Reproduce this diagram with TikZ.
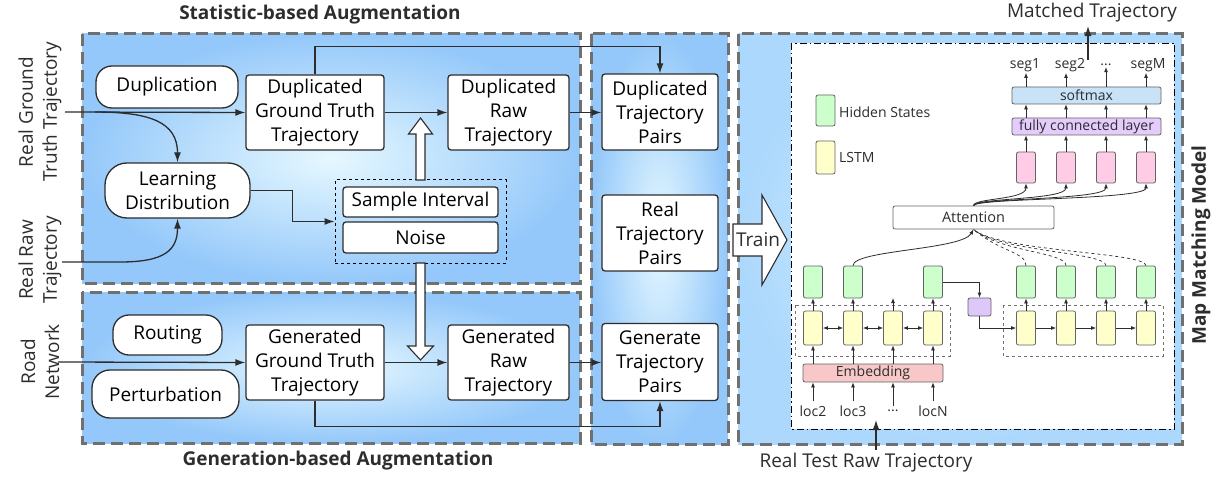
\documentclass[tikz,border=0pt]{standalone}
\usepackage{fontspec}
\setmainfont{Open Sans}
\usetikzlibrary{arrows.meta}

\definecolor{regionedge}{RGB}{148,200,250}
\definecolor{regioncenter}{RGB}{230,248,255}
\definecolor{modeledge}{RGB}{172,216,253}
\definecolor{modelcenter}{RGB}{214,240,255}
\definecolor{dashgray}{RGB}{112,112,112}
\definecolor{inkgray}{RGB}{45,45,45}
\definecolor{cellline}{RGB}{100,100,100}
\definecolor{hidcol}{RGB}{204,255,204}
\definecolor{lstmcol}{RGB}{255,255,204}
\definecolor{outcol}{RGB}{255,204,230}
\definecolor{embcol}{RGB}{248,200,200}
\definecolor{smcol}{RGB}{200,226,248}
\definecolor{fccol}{RGB}{228,204,252}
\definecolor{ctxcol}{RGB}{222,200,250}

\newcommand\bigf{\fontsize{19}{24}\selectfont}
\newcommand\smallf{\fontsize{14}{16}\selectfont}

\begin{document}
\begin{tikzpicture}[x=1pt,y=-1pt,
  region/.style={draw=dashgray, line width=3pt, dash pattern=on 12pt off 6pt,
                 inner color=regioncenter, outer color=regionedge},
  box/.style={draw=inkgray, fill=white, line width=1.3pt, rounded corners=3pt,
              align=center, font=\bigf, inner sep=0pt},
  pill/.style={box, rounded corners=16pt},
  conn/.style={draw=inkgray, line width=1.3pt, -{Latex[length=10pt,width=7pt]}},
  hollow/.style={draw=inkgray, line width=1.1pt, fill=white, line join=miter},
  title/.style={font=\bigf\bfseries, text=inkgray},
  lab/.style={font=\bigf, text=inkgray, align=center},
  cell/.style={draw=cellline, line width=0.8pt, rounded corners=2pt,
               minimum width=19pt, minimum height=32pt, inner sep=0pt},
  bar/.style={draw=cellline, line width=0.8pt, rounded corners=2pt,
              inner sep=0pt, font=\smallf, text=inkgray},
  sarr/.style={draw=inkgray, line width=0.8pt, -{Latex[length=5pt,width=4pt]}},
  darr/.style={draw=inkgray, line width=0.8pt, {Latex[length=5pt,width=4pt]}-{Latex[length=5pt,width=4pt]}},
  small/.style={font=\smallf, text=inkgray, inner sep=1pt},
]
\useasboundingbox (0,0) rectangle (1221,481);

% ---------- shaded regions ----------
\path[region] (82,34) rectangle (580,283);
\path[region] (82,292) rectangle (580,443);
\path[region] (591,34) rectangle (728,444);
\path[region, inner color=modelcenter, outer color=modeledge] (738,34) rectangle (1182,444);

% ---------- titles ----------
\node[title] (ttop) at (320,15) {Statistic-based Augmentation};
\node[title] (tbot) at (338,461) {Generation-based Augmentation};
\node[title, rotate=90] (tmodel) at (1201,245) {Map Matching Model};

% ---------- inputs on the left ----------
\node[lab, rotate=90] (lrgt) at (40,112) {Real Ground\\Truth Trajectory};
\node[lab, rotate=90] (lrr) at (40,260) {Real Raw\\Trajectory};
\node[lab, rotate=90] (lrn) at (40,362) {Road\\Network};
\coordinate (rgtin) at (65,112);
\coordinate (split) at (95,112);
\coordinate (rrin) at (62,262);
\coordinate (rnin) at (58,362);

% ---------- statistic-based augmentation ----------
\node[pill, minimum width=142pt, minimum height=42pt] (dup) at (167,87) {Duplication};
\node[box, minimum width=138pt, minimum height=75pt] (dgt) at (315,112.5) {Duplicated\\Ground Truth\\Trajectory};
\node[box, minimum width=121pt, minimum height=75pt] (drt) at (508.5,112.5) {Duplicated\\Raw\\Trajectory};
\node[pill, minimum width=145pt, minimum height=55pt, rounded corners=22pt] (ld) at (177.5,190.5) {Learning\\Distribution};
\node[draw=black, dashed, line width=1pt, minimum width=171pt, minimum height=83pt, inner sep=0pt] (grp) at (420.5,221.5) {};
\node[box, minimum width=155pt, minimum height=30pt] (samp) at (420.5,202) {Sample Interval};
\node[box, minimum width=155pt, minimum height=31pt] (noise) at (420.5,237.5) {Noise};

\draw[conn] (rgtin) -- (dgt.west);
\draw[conn] (split) .. controls (150,112) and (177.5,122) .. (ld.north);
\draw[conn] (rrin) -- (120,262) .. controls (165,262) and (177.5,250) .. (ld.south);
\draw[conn] (ld.east) -- ++(42,0) |- (grp.west);
\draw[conn] (dgt.east) -- (drt.west);

% hollow arrows from the sampling group
\draw[hollow] (416,180) -- (416,134) -- (408.5,134) -- (420.5,118) -- (432.5,134) -- (425,134) -- (425,180) -- cycle;
\draw[hollow] (416,263) -- (416,346) -- (407.5,346) -- (420.5,360) -- (433.5,346) -- (425,346) -- (425,263) -- cycle;

% ---------- generation-based augmentation ----------
\node[pill, minimum width=109pt, minimum height=40pt, rounded corners=16pt] (rout) at (167.5,335) {Routing};
\node[pill, minimum width=147pt, minimum height=48pt, rounded corners=18pt] (pert) at (165.5,394) {Perturbation};
\node[box, minimum width=138pt, minimum height=75pt] (ggt) at (315,362.5) {Generated\\Ground Truth\\Trajectory};
\node[box, minimum width=121pt, minimum height=75pt] (grt) at (508.5,362.5) {Generated\\Raw\\Trajectory};

\draw[conn] (rnin) -- (ggt.west);
\draw[conn] (ggt.east) -- (grt.west);

% ---------- trajectory pairs ----------
\node[box, minimum width=116pt, minimum height=76pt] (dtp) at (660,112) {Duplicated\\Trajectory\\Pairs};
\node[box, minimum width=116pt, minimum height=76pt] (rtp) at (660,233) {Real\\Trajectory\\Pairs};
\node[box, minimum width=116pt, minimum height=77pt] (gtp) at (660,362) {Generate\\Trajectory\\Pairs};

\draw[conn] (drt.east) -- (drt.east -| dtp.west);
\draw[conn] (dgt.north) -- ++(0,-28) -| (dtp.north);
\draw[conn] (grt.east) -- (grt.east -| gtp.west);
\draw[conn] (ggt.south) -- ++(0,26) -| (gtp.south);

% ---------- train arrow ----------
\draw[hollow] (733,224) -- (762,224) -- (762,195) -- (787,240) -- (762,285) -- (762,256) -- (733,256) -- cycle;
\node[lab] (train) at (758,240) {Train};

% ---------- map matching model ----------
\draw[draw=black, line width=0.9pt, dash pattern=on 7pt off 3pt on 1.5pt off 3pt, fill=white] (791,43) rectangle (1174,429);

% legend
\node[cell, fill=hidcol, minimum height=31pt] (lgh) at (825.5,110.5) {};
\node[small, anchor=west] (lghl) at (838,112) {Hidden States};
\node[cell, fill=lstmcol, minimum height=33pt] (lgl) at (825.5,157.5) {};
\node[small, anchor=west] (lgll) at (838,158) {LSTM};

% encoder
\draw[dashgray, dashed, line width=0.8pt] (795,305) rectangle (950,356);
\foreach \i/\x in {1/813,2/853,3/893,4/933}{
  \node[cell, fill=lstmcol, minimum height=34pt] (e\i) at (\x,328) {};
}
\node[cell, fill=hidcol] (h1) at (813,282) {};
\node[cell, fill=hidcol] (h2) at (853,282) {};
\coordinate (h3) at (893,298);
\node[cell, fill=hidcol] (h4) at (933,282) {};
\node[bar, fill=embcol, minimum width=140pt, minimum height=18pt] (emb) at (873,373) {Embedding};
\node[small] (loc2) at (813,411) {loc2};
\node[small] (loc3) at (853,411) {loc3};
\node[small] (locd) at (893,411) {...};
\node[small] (locN) at (933,411) {locN};
\foreach \l/\e in {loc2/e1,loc3/e2,locd/e3,locN/e4}{
  \draw[sarr] (\e |- \l.north) ++(0,-3) -- (\e |- emb.south);
  \draw[sarr] (\e |- emb.north) -- (\e.south);
}
\draw[sarr] (e1.north) -- (h1.south);
\draw[sarr] (e2.north) -- (h2.south);
\draw[sarr] (e3.north) -- (h3);
\draw[sarr] (e4.north) -- (h4.south);
\draw[darr] (e1.east) -- (e2.west);
\draw[darr] (e2.east) -- (e3.west);
\draw[darr] (e3.east) -- (e4.west);

% context vector
\node[bar, fill=ctxcol, minimum width=23pt, minimum height=18pt] (ctx) at (979.5,307) {};

% decoder
\draw[dashgray, dashed, line width=0.8pt] (1003,305) rectangle (1163,356);
\foreach \i/\x in {1/1026,2/1066,3/1106,4/1146}{
  \node[cell, fill=lstmcol, minimum height=34pt] (d\i) at (\x,328) {};
  \node[cell, fill=hidcol] (g\i) at (\x,282) {};
  \draw[sarr] (d\i.north) -- (g\i.south);
  \node[cell, fill=outcol, minimum height=31pt] (p\i) at (\x,167.5) {};
}
\draw[sarr] (h4.east) -| (ctx.north);
\draw[sarr] (ctx.south) |- (d1.west);
\draw[sarr] (d1.east) -- (d2.west);
\draw[sarr] (d2.east) -- (d3.west);
\draw[sarr] (d3.east) -- (d4.west);

% attention
\node[bar, fill=white, font=\fontsize{14.5}{16}\selectfont, minimum width=161pt, minimum height=23pt] (att) at (973.5,217.5) {Attention};
\draw[sarr] (h2.north) .. controls (853,250) and (962,250) .. (att.south);
\foreach \i in {1,2,3,4}{
  \draw[draw=inkgray, line width=0.7pt, dashed] (g\i.north) .. controls (g\i.north |- 0,252) and (1000,252) .. (att.south);
  \draw[sarr] (att.north) .. controls (973.5,198) and (p\i.south |- 0,200) .. (p\i.south);
}

% output layers
\node[bar, fill=fccol, minimum width=149pt, minimum height=17pt] (fc) at (1086.5,126.5) {fully connected layer};
\node[bar, fill=smcol, minimum width=149pt, minimum height=17pt] (sm) at (1086.5,95.5) {softmax};
\node[small] (s1) at (1025,65) {seg1};
\node[small] (s2) at (1070,65) {seg2};
\node[small] (s3) at (1106,65) {...};
\node[small] (s4) at (1148,65) {segM};
\foreach \i in {1,2,3,4}{
  \draw[sarr] (p\i.north) -- (p\i.north |- fc.south);
  \draw[sarr] (p\i.north |- fc.north) -- (p\i.north |- sm.south);
  \draw[sarr] (p\i.north |- sm.north) -- (p\i.north |- s\i.south);
}

% model input and output
\node[lab] (mt) at (1092,13) {Matched Trajectory};
\coordinate (mtfrom) at (1088,60);
\draw[conn] (mtfrom) -- (mtfrom |- mt.south);
\node[lab] (rt) at (866,463) {Real Test Raw Trajectory};
\coordinate (rtto) at (876,420);
\draw[conn] (rtto |- rt.north) -- (rtto);

\end{tikzpicture}
\end{document}
